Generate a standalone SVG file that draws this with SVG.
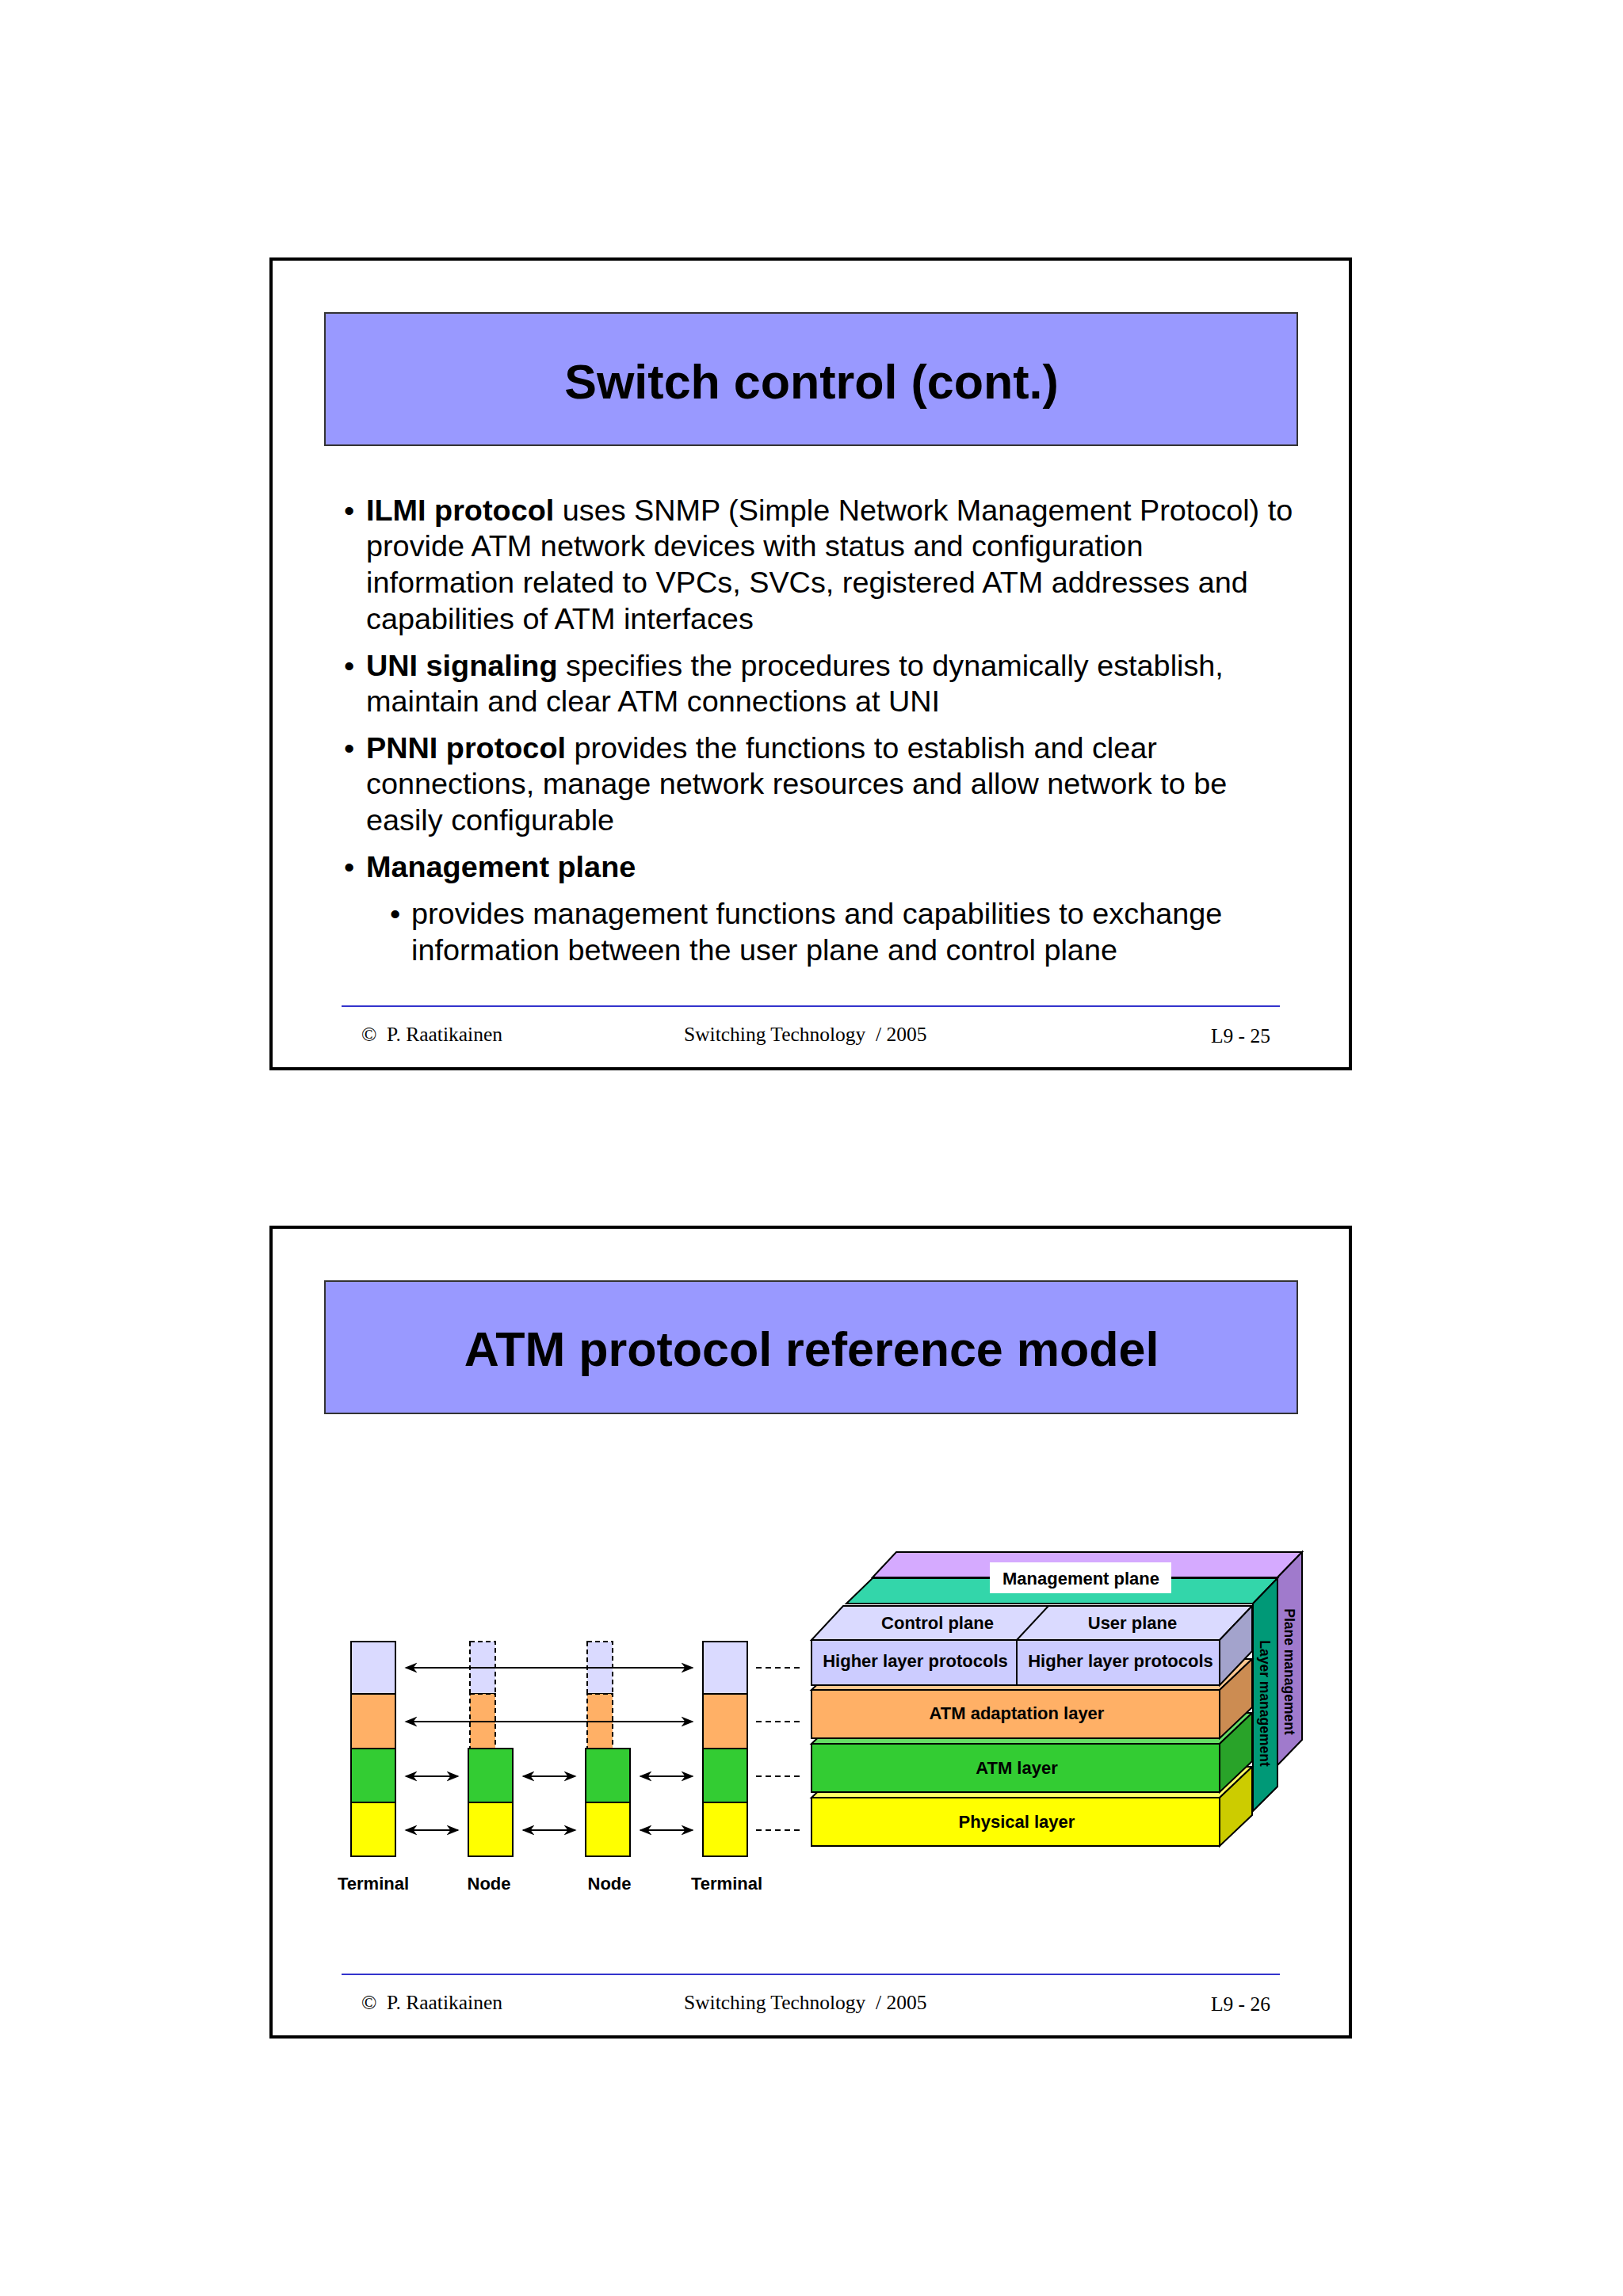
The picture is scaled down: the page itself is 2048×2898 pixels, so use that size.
<svg xmlns="http://www.w3.org/2000/svg" width="2048" height="2898" viewBox="0 0 2048 2898">
<style>
.frame{fill:#fff;stroke:#000;stroke-width:4}
.tbox{fill:#9999ff;stroke:#333;stroke-width:2}
.title{font-family:"Liberation Sans",Arial,sans-serif;font-weight:bold;font-size:61px;text-anchor:middle}
.body{font-family:"Liberation Sans",Arial,sans-serif;font-size:37.8px}
.foot{font-family:"Liberation Serif","Times New Roman",serif;font-size:25.5px}
.fl{stroke:#3333cc;stroke-width:2}
.lbl{font-family:"Liberation Sans",Arial,sans-serif;font-weight:bold;font-size:22px;text-anchor:middle}
.vl{font-family:"Liberation Sans",Arial,sans-serif;font-weight:bold;font-size:17.5px;text-anchor:middle}
.ln{stroke:#000;stroke-width:2;fill:none}
.dash{stroke:#000;stroke-width:2;stroke-dasharray:7,5}
.e{stroke:#000;stroke-width:2}
.ed{stroke:#000;stroke-width:2;stroke-dasharray:6,4}
</style>
<defs>
<marker id="ah" viewBox="0 0 10 10" refX="9" refY="5" markerWidth="8" markerHeight="8" orient="auto-start-reverse"><path d="M0,1 L10,5 L0,9 L3,5 z" fill="#000"/></marker>
</defs>
<rect width="2048" height="2898" fill="#fff"/>

<g id="slide1">
<rect class="frame" x="342" y="327" width="1362" height="1022"/>
<rect class="tbox" x="410" y="395" width="1227" height="167"/>
<text class="title" x="1024" y="503">Switch control (cont.)</text>
<g class="body">
<text x="434" y="657">•</text>
<text x="462" y="657"><tspan font-weight="bold">ILMI protocol</tspan> uses SNMP (Simple Network Management Protocol) to</text>
<text x="462" y="702">provide ATM network devices with status and configuration</text>
<text x="462" y="748">information related to VPCs, SVCs, registered ATM addresses and</text>
<text x="462" y="794">capabilities of ATM interfaces</text>
<text x="434" y="853">•</text>
<text x="462" y="853"><tspan font-weight="bold">UNI signaling</tspan> specifies the procedures to dynamically establish,</text>
<text x="462" y="898">maintain and clear ATM connections at UNI</text>
<text x="434" y="957">•</text>
<text x="462" y="957"><tspan font-weight="bold">PNNI protocol</tspan> provides the functions to establish and clear</text>
<text x="462" y="1002">connections, manage network resources and allow network to be</text>
<text x="462" y="1048">easily configurable</text>
<text x="434" y="1107">•</text>
<text x="462" y="1107" font-weight="bold">Management plane</text>
<text x="492" y="1166">•</text>
<text x="519" y="1166">provides management functions and capabilities to exchange</text>
<text x="519" y="1212">information between the user plane and control plane</text>
</g>
<line class="fl" x1="431" y1="1270" x2="1615" y2="1270"/>
<text class="foot" x="456" y="1314" xml:space="preserve">©  P. Raatikainen</text>
<text class="foot" x="863" y="1314" xml:space="preserve">Switching Technology  / 2005</text>
<text class="foot" x="1603" y="1316" text-anchor="end">L9 - 25</text>
</g>

<g id="slide2">
<rect class="frame" x="342" y="1549" width="1362" height="1022"/>
<rect class="tbox" x="410" y="1617" width="1227" height="167"/>
<text class="title" x="1024" y="1724">ATM protocol reference model</text>
<line class="fl" x1="431" y1="2492" x2="1615" y2="2492"/>
<text class="foot" x="456" y="2536" xml:space="preserve">©  P. Raatikainen</text>
<text class="foot" x="863" y="2536" xml:space="preserve">Switching Technology  / 2005</text>
<text class="foot" x="1603" y="2538" text-anchor="end">L9 - 26</text>
</g>

<g id="terminal1">
<rect x="443" y="2072" width="56" height="66" fill="#dadaff" class="e"/>
<rect x="443" y="2138" width="56" height="69" fill="#ffb066" class="e"/>
<rect x="443" y="2207" width="56" height="68" fill="#33cc33" class="e"/>
<rect x="443" y="2275" width="56" height="68" fill="#ffff00" class="e"/>
<text class="lbl" x="471" y="2385">Terminal</text>
</g>
<g id="node1">
<rect x="593" y="2072" width="32" height="66" fill="#dadaff" class="ed"/>
<rect x="593" y="2138" width="32" height="69" fill="#ffb066" class="ed"/>
<rect x="591" y="2207" width="56" height="68" fill="#33cc33" class="e"/>
<rect x="591" y="2275" width="56" height="68" fill="#ffff00" class="e"/>
<text class="lbl" x="617" y="2385">Node</text>
</g>
<g id="node2">
<rect x="741" y="2072" width="32" height="66" fill="#dadaff" class="ed"/>
<rect x="741" y="2138" width="32" height="69" fill="#ffb066" class="ed"/>
<rect x="739" y="2207" width="56" height="68" fill="#33cc33" class="e"/>
<rect x="739" y="2275" width="56" height="68" fill="#ffff00" class="e"/>
<text class="lbl" x="769" y="2385">Node</text>
</g>
<g id="terminal2">
<rect x="887" y="2072" width="56" height="66" fill="#dadaff" class="e"/>
<rect x="887" y="2138" width="56" height="69" fill="#ffb066" class="e"/>
<rect x="887" y="2207" width="56" height="68" fill="#33cc33" class="e"/>
<rect x="887" y="2275" width="56" height="68" fill="#ffff00" class="e"/>
<text class="lbl" x="917" y="2385">Terminal</text>
</g>

<g id="connectors">
<line class="ln" x1="512" y1="2105" x2="874" y2="2105" marker-start="url(#ah)" marker-end="url(#ah)"/>
<line class="ln" x1="512" y1="2173" x2="874" y2="2173" marker-start="url(#ah)" marker-end="url(#ah)"/>
<line class="ln" x1="512" y1="2242" x2="578" y2="2242" marker-start="url(#ah)" marker-end="url(#ah)"/>
<line class="ln" x1="660" y1="2242" x2="726" y2="2242" marker-start="url(#ah)" marker-end="url(#ah)"/>
<line class="ln" x1="808" y1="2242" x2="874" y2="2242" marker-start="url(#ah)" marker-end="url(#ah)"/>
<line class="ln" x1="512" y1="2310" x2="578" y2="2310" marker-start="url(#ah)" marker-end="url(#ah)"/>
<line class="ln" x1="660" y1="2310" x2="726" y2="2310" marker-start="url(#ah)" marker-end="url(#ah)"/>
<line class="ln" x1="808" y1="2310" x2="874" y2="2310" marker-start="url(#ah)" marker-end="url(#ah)"/>
<line class="dash" x1="954" y1="2105" x2="1013" y2="2105"/>
<line class="dash" x1="954" y1="2173" x2="1013" y2="2173"/>
<line class="dash" x1="954" y1="2242" x2="1013" y2="2242"/>
<line class="dash" x1="954" y1="2310" x2="1013" y2="2310"/>
</g>

<g id="plane-management">
<polygon points="1101,1991 1131,1959 1643,1959 1612,1991" fill="#d5aaff" class="e"/>
<polygon points="1612,1991 1643,1959 1643,2196 1612,2228" fill="#a07acc" class="e"/>
<text class="vl" transform="translate(1621,2110) rotate(90)">Plane management</text>
</g>
<g id="layer-management">
<polygon points="1068,2024 1101,1992 1612,1992 1581,2024" fill="#33d6aa" class="e"/>
<polygon points="1581,2024 1612,1992 1612,2255 1581,2286" fill="#009977" class="e"/>
<text class="vl" transform="translate(1590,2150) rotate(90)">Layer management</text>
</g>
<g id="mgmt-label">
<rect x="1249" y="1972" width="229" height="39" fill="#fff"/>
<text class="lbl" x="1364" y="2000">Management plane</text>
</g>
<g id="physical-layer">
<polygon points="1024,2269 1065,2230 1580,2230 1539,2269" fill="#ffff66" class="e"/>
<polygon points="1539,2269 1580,2230 1580,2291 1539,2330" fill="#cccc00" class="e"/>
<rect x="1024" y="2269" width="515" height="61" fill="#ffff00" class="e"/>
<text class="lbl" x="1283" y="2307">Physical layer</text>
</g>
<g id="atm-layer">
<polygon points="1024,2201 1065,2162 1580,2162 1539,2201" fill="#66dd66" class="e"/>
<polygon points="1539,2201 1580,2162 1580,2223 1539,2262" fill="#29a329" class="e"/>
<rect x="1024" y="2201" width="515" height="61" fill="#33cc33" class="e"/>
<text class="lbl" x="1283" y="2239">ATM layer</text>
</g>
<g id="aal">
<polygon points="1024,2133 1065,2094 1580,2094 1539,2133" fill="#ffc890" class="e"/>
<polygon points="1539,2133 1580,2094 1580,2155 1539,2194" fill="#cc8c52" class="e"/>
<rect x="1024" y="2133" width="515" height="61" fill="#ffb066" class="e"/>
<text class="lbl" x="1283" y="2170">ATM adaptation layer</text>
</g>
<g id="higher-layers">
<polygon points="1024,2070 1064,2027 1580,2027 1539,2070" fill="#dadaff" class="e"/>
<line class="e" x1="1283" y1="2070" x2="1323" y2="2027"/>
<polygon points="1539,2070 1580,2027 1580,2084 1539,2127" fill="#a3a3cc" class="e"/>
<rect x="1024" y="2070" width="515" height="57" fill="#ccccff" class="e"/>
<line class="e" x1="1283" y1="2070" x2="1283" y2="2127"/>
<text class="lbl" x="1183" y="2056">Control plane</text>
<text class="lbl" x="1429" y="2056">User plane</text>
<text class="lbl" x="1155" y="2104">Higher layer protocols</text>
<text class="lbl" x="1414" y="2104">Higher layer protocols</text>
</g>
</svg>
